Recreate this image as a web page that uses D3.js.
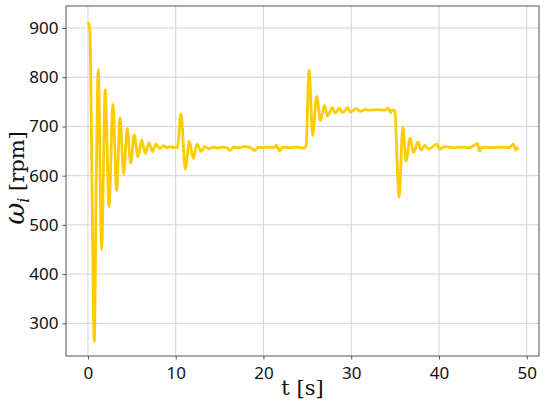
<!DOCTYPE html>
<html><head><meta charset="utf-8">
<script src="https://cdn.jsdelivr.net/npm/d3@7"></script>
<style>body{margin:0;background:#fff}svg{display:block}</style>
</head><body>
<svg id="c" width="550" height="410"></svg>
<script>
const time = [0,0.15,0.25,0.45,0.72,0.95,1.18,1.56,1.97,2.4,2.85,3.27,3.65,4.07,4.48,4.87,5.28,5.7,6.12,6.53,6.95,7.37,7.75,8.2,8.6,9.0,9.4,9.8,10.2,10.6,11.1,11.55,12.0,12.45,12.9,13.3,13.8,14.3,14.8,15.3,15.8,16.2,16.6,17.2,17.8,18.5,19.0,19.4,20.0,20.6,21.2,21.5,21.8,22.2,23.0,23.8,24.6,24.85,25.2,25.6,26.07,26.5,26.95,27.3,27.85,28.2,28.65,29.0,29.6,29.9,30.6,31.0,31.6,32.2,33.0,33.8,34.25,34.5,34.7,35.0,35.2,35.46,35.88,36.26,36.7,37.1,37.6,37.97,38.4,38.8,39.3,39.75,40.1,40.6,41.5,42.5,43.5,44.4,44.6,44.9,46.0,47.0,48.0,48.5,48.75,49.05];
const omega = [912,905,888,600,263,600,816,450,775,537,745,570,718,603,696,625,683,638,672,645,667,649,664,655,661,657,659,657,658,726,613,670,635,664,649,659,655,658,656,658,657,651,658,657,659,657,651,658,657,658,657,662,650,658,657,658,656,660,815,682,761,712,743,721,738,727,737,728,738,729,736,731,734,733,734,733,737,728,733,732,640,556,699,630,676,647,668,652,662,654,659,664,654,659,657,658,657,665,650,658,657,658,657,664,652,658];
const xTicks = [0,10,20,30,40,50];
const yTicks = [300,400,500,600,700,800,900];

const svg = d3.select("#c");
const L=66,R=539,T=6,B=356;
const x = d3.scaleLinear().domain([-2.5,51.4]).range([L,R]);
const y = d3.scaleLinear().domain([233.6,944.7]).range([B,T]);

// grid
svg.append("g").selectAll("line").data(xTicks).join("line")
  .attr("x1",d=>x(d)).attr("x2",d=>x(d)).attr("y1",T).attr("y2",B)
  .attr("stroke","#d4d4d4").attr("stroke-width",1);
svg.append("g").selectAll("line").data(yTicks).join("line")
  .attr("x1",L).attr("x2",R).attr("y1",d=>y(d)).attr("y2",d=>y(d))
  .attr("stroke","#d4d4d4").attr("stroke-width",1);

// line
const pts = time.map((t,i)=>[t,omega[i]]);
svg.append("path").datum(pts)
  .attr("fill","none").attr("stroke","#ffcc00").attr("stroke-width",2.8)
  .attr("stroke-linejoin","round")
  .attr("d",d3.line().x(d=>x(d[0])).y(d=>y(d[1])).curve(d3.curveMonotoneX));

// frame
svg.append("rect").attr("x",L).attr("y",T).attr("width",R-L).attr("height",B-T)
  .attr("fill","none").attr("stroke","#555").attr("stroke-width",1);

// axes
const xa = svg.append("g").attr("transform",`translate(0,${B})`)
  .call(d3.axisBottom(x).tickValues(xTicks).tickSize(3.5).tickPadding(7).tickFormat(d3.format("d")));
const ya = svg.append("g").attr("transform",`translate(${L},0)`)
  .call(d3.axisLeft(y).tickValues(yTicks).tickSize(3.5).tickPadding(4).tickFormat(d3.format("d")));
[xa,ya].forEach(g=>{
  g.select(".domain").remove();
  g.selectAll("line").attr("stroke","#555");
  g.selectAll("text").attr("fill","#111").style("font-family","'Noto Sans', sans-serif").style("font-size","17px");
});

// labels
svg.append("text").attr("x",(L+R)/2).attr("y",395).attr("text-anchor","middle")
  .style("font-family","'DejaVu Serif', serif").style("font-size","21px").attr("fill","#111").text("t [s]");
const yl = svg.append("text").attr("transform","translate(24,178) rotate(-90)").attr("text-anchor","middle")
  .attr("fill","#111");
yl.append("tspan").style("font-family","'DejaVu Serif', serif").style("font-style","italic").style("font-size","27px").text("ω");
yl.append("tspan").style("font-family","'DejaVu Serif', serif").style("font-style","italic").style("font-size","16px").attr("dy",5).text("i");
yl.append("tspan").style("font-family","'DejaVu Serif', serif").style("font-size","21px").attr("dy",-5).text(" [rpm]");
</script>
</body></html>
